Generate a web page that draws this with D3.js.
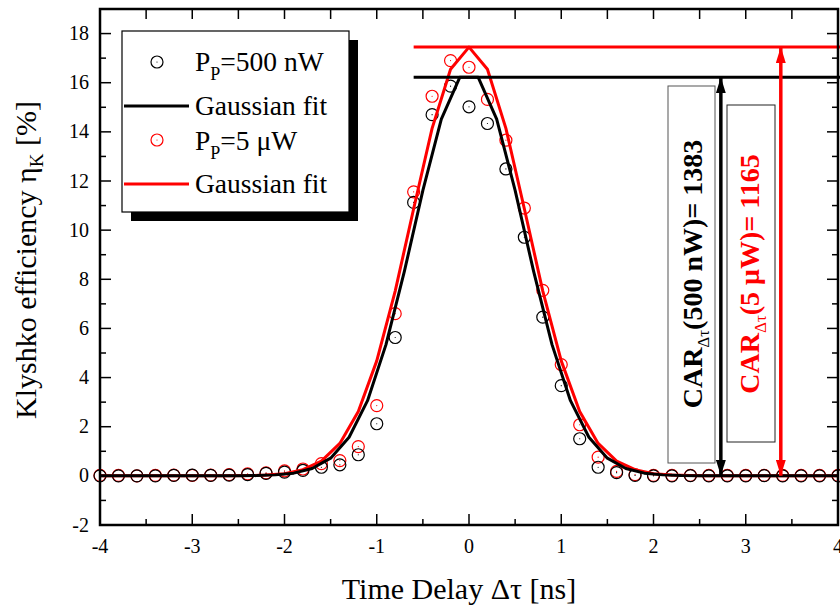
<!DOCTYPE html>
<html>
<head>
<meta charset="utf-8">
<script src="https://cdn.jsdelivr.net/npm/d3@7"></script>
<style>
  body { margin: 0; background: #fff; }
  text { font-family: "Liberation Serif", "Times New Roman", serif; }
</style>
</head>
<body>
<svg id="chart" width="840" height="608"></svg>
<script>
// measured time delays (ns)
var delayNs = [-4.0, -3.8, -3.6, -3.4, -3.2, -3.0, -2.8, -2.6, -2.4, -2.2, -2.0, -1.8, -1.6, -1.4, -1.2, -1.0, -0.8, -0.6, -0.4, -0.2,
  0.0, 0.2, 0.4, 0.6, 0.8, 1.0, 1.2, 1.4, 1.6, 1.8, 2.0, 2.2, 2.4, 2.6, 2.8, 3.0, 3.2, 3.4, 3.6, 3.8, 4.0];

// Klyshko efficiency, Pp = 500 nW
var eta500nW = [0.0, 0.0, 0.0, 0.0, 0.02, 0.03, 0.02, 0.03, 0.05, 0.1, 0.15, 0.22, 0.35, 0.45, 0.86, 2.12, 5.63, 11.13, 14.7, 15.86,
  15.02, 14.34, 12.49, 9.71, 6.46, 3.67, 1.51, 0.35, 0.13, 0.02, 0.0, 0.0, 0.01, 0.0, 0.0, 0.0, 0.01, 0.0, 0.0, 0.0, 0.0];

// Klyshko efficiency, Pp = 5 uW
var eta5uW = [0.02, 0.02, 0.0, 0.02, 0.03, 0.02, 0.03, 0.05, 0.08, 0.12, 0.2, 0.28, 0.5, 0.62, 1.19, 2.86, 6.6, 11.56, 15.45, 16.9,
  16.63, 15.32, 13.66, 10.9, 7.55, 4.53, 2.08, 0.76, 0.18, 0.05, 0.02, 0.02, 0.02, 0.02, 0.02, 0.02, 0.02, 0.02, 0.02, 0.02, 0.02];

// gaussian fit curves as drawn
var fit500X = [-4.0, -3.0, -2.5, -2.3, -2.1, -1.9, -1.7, -1.5, -1.3, -1.1, -0.9, -0.7, -0.5, -0.3, -0.1,
  0.1, 0.3, 0.5, 0.7, 0.9, 1.1, 1.3, 1.5, 1.7, 1.9, 2.1, 2.3, 2.5, 3.0, 4.0];
var fit500Y = [0.0, 0.0, 0.0, 0.01, 0.04, 0.11, 0.3, 0.72, 1.57, 3.06, 5.34, 8.33, 11.62, 14.52, 16.22,
  16.22, 14.52, 11.62, 8.33, 5.34, 3.06, 1.57, 0.72, 0.3, 0.11, 0.04, 0.01, 0.0, 0.0, 0.0];
var fit5X = [-4.0, -3.0, -2.6, -2.4, -2.2, -2.0, -1.8, -1.6, -1.4, -1.2, -1.0, -0.8, -0.6, -0.4, -0.2, 0.0,
  0.2, 0.4, 0.6, 0.8, 1.0, 1.2, 1.4, 1.6, 1.8, 2.0, 2.2, 2.4, 2.6, 3.0, 4.0];
var fit5Y = [0.0, 0.0, 0.0, 0.01, 0.03, 0.09, 0.25, 0.6, 1.32, 2.62, 4.68, 7.52, 10.87, 14.14, 16.55, 17.45,
  16.55, 14.14, 10.87, 7.52, 4.68, 2.62, 1.32, 0.6, 0.25, 0.09, 0.03, 0.01, 0.0, 0.0, 0.0];

// peak levels and CAR arrows
var peak500 = 16.22, peak5 = 17.45;
var peakLineStart = -0.6;
var arrow500X = 2.73, arrow5X = 3.38;

var xTicks = [-4, -3, -2, -1, 0, 1, 2, 3, 4];
var yTicks = [-2, 0, 2, 4, 6, 8, 10, 12, 14, 16, 18];

var svg = d3.select("#chart");
var plotL = 100, plotR = 838, plotT = 9, plotB = 525;

var x = d3.scaleLinear().domain([-4, 4]).range([plotL, plotR]);
var y = d3.scaleLinear().domain([-2, 19]).range([plotB, plotT]);

svg.append("rect").attr("width", 840).attr("height", 608).attr("fill", "#fff");

var defs = svg.append("defs");
function addHead(id, color) {
  defs.append("marker").attr("id", id)
    .attr("viewBox", "0 0 16 10").attr("refX", 16).attr("refY", 5)
    .attr("markerWidth", 16).attr("markerHeight", 10).attr("markerUnits", "userSpaceOnUse")
    .attr("orient", "auto-start-reverse")
    .append("path").attr("d", "M0,0 L16,5 L0,10 Z").attr("fill", color);
}
addHead("headK", "#000");
addHead("headR", "#f00");

// ticks, all four sides, inward
var tk = svg.append("g").attr("stroke", "#000").attr("stroke-width", 1.5);
d3.range(-4, 4.01, 0.5).forEach(function (v) {
  var major = Math.abs(v - Math.round(v)) < 1e-6;
  var len = major ? 11 : 6;
  tk.append("line").attr("x1", x(v)).attr("x2", x(v)).attr("y1", plotB).attr("y2", plotB - len);
  tk.append("line").attr("x1", x(v)).attr("x2", x(v)).attr("y1", plotT).attr("y2", plotT + 10);
});
d3.range(-2, 19.01, 1).forEach(function (v) {
  var len = (v % 2 === 0) ? 11 : 6;
  tk.append("line").attr("x1", plotL).attr("x2", plotL + len).attr("y1", y(v)).attr("y2", y(v));
  tk.append("line").attr("x1", plotR).attr("x2", plotR - len).attr("y1", y(v)).attr("y2", y(v));
});

// tick labels
svg.append("g").selectAll("text").data(xTicks).enter().append("text")
  .attr("x", function (d) { return x(d); }).attr("y", 553)
  .attr("text-anchor", "middle").attr("font-size", 20)
  .text(function (d) { return d; });
svg.append("g").selectAll("text").data(yTicks).enter().append("text")
  .attr("x", 89).attr("y", function (d) { return y(d) + 6.5; })
  .attr("text-anchor", "end").attr("font-size", 20)
  .text(function (d) { return d; });

// axis titles
svg.append("text").attr("x", 459).attr("y", 599).attr("text-anchor", "middle")
  .attr("font-size", 30).text("Time Delay \u0394\u03c4 [ns]");
var yt = svg.append("text").attr("transform", "translate(36,260) rotate(-90)")
  .attr("text-anchor", "middle").attr("font-size", 30);
yt.append("tspan").text("Klyshko efficiency \u03b7");
yt.append("tspan").attr("font-size", 19).attr("dy", 7).text("K");
yt.append("tspan").attr("dy", -7).text(" [%]");

// data circles
function drawPoints(vals, color) {
  var g = svg.append("g");
  delayNs.forEach(function (d, i) {
    g.append("circle").attr("cx", x(d)).attr("cy", y(vals[i])).attr("r", 6)
      .attr("fill", "none").attr("stroke", color).attr("stroke-width", 1.2);
    g.append("circle").attr("cx", x(d)).attr("cy", y(vals[i])).attr("r", 0.6).attr("fill", color);
  });
}
drawPoints(eta5uW, "#f00");
drawPoints(eta500nW, "#000");

// fit lines
var line = d3.line().x(function (d) { return x(d[0]); }).y(function (d) { return y(d[1]); });
svg.append("path").datum(d3.zip(fit5X, fit5Y)).attr("d", line)
  .attr("fill", "none").attr("stroke", "#f00").attr("stroke-width", 3).attr("stroke-linejoin", "round");
svg.append("path").datum(d3.zip(fit500X, fit500Y)).attr("d", line)
  .attr("fill", "none").attr("stroke", "#000").attr("stroke-width", 3).attr("stroke-linejoin", "round");

// peak level lines
svg.append("line").attr("x1", x(peakLineStart)).attr("x2", 840).attr("y1", y(peak5)).attr("y2", y(peak5))
  .attr("stroke", "#f00").attr("stroke-width", 3);
svg.append("line").attr("x1", x(peakLineStart)).attr("x2", 840).attr("y1", y(peak500)).attr("y2", y(peak500))
  .attr("stroke", "#000").attr("stroke-width", 3);

// CAR label boxes
svg.append("rect").attr("x", 668).attr("y", 86).attr("width", 47).attr("height", 377)
  .attr("fill", "#fff").attr("stroke", "#555").attr("stroke-width", 1);
svg.append("rect").attr("x", 727).attr("y", 105).attr("width", 48).attr("height", 337)
  .attr("fill", "#fff").attr("stroke", "#222").attr("stroke-width", 1);

function carLabel(cx, cy, color, rest) {
  var t = svg.append("text").attr("transform", "translate(" + cx + "," + cy + ") rotate(-90)")
    .attr("text-anchor", "middle").attr("font-size", 28).attr("font-weight", "bold").attr("fill", color);
  t.append("tspan").text("CAR");
  t.append("tspan").attr("font-size", 17).attr("font-weight", "normal").attr("dy", 7).text("\u0394\u03c4");
  t.append("tspan").attr("dy", -7).text(rest);
}
carLabel(702, 274, "#000", "(500 nW)= 1383");
carLabel(759, 274, "#f00", "(5 \u03bcW)= 1165");

// CAR arrows
svg.append("line").attr("x1", x(arrow500X)).attr("x2", x(arrow500X)).attr("y1", y(0)).attr("y2", y(peak500))
  .attr("stroke", "#000").attr("stroke-width", 3.5)
  .attr("marker-start", "url(#headK)").attr("marker-end", "url(#headK)");
svg.append("line").attr("x1", x(arrow5X)).attr("x2", x(arrow5X)).attr("y1", y(0)).attr("y2", y(peak5))
  .attr("stroke", "#f00").attr("stroke-width", 3.5)
  .attr("marker-start", "url(#headR)").attr("marker-end", "url(#headR)");

// frame
svg.append("rect").attr("x", plotL).attr("y", plotT).attr("width", plotR - plotL).attr("height", plotB - plotT)
  .attr("fill", "none").attr("stroke", "#000").attr("stroke-width", 2.5);

// legend with drop shadow
var lg = svg.append("g");
lg.append("rect").attr("x", 131).attr("y", 40).attr("width", 227).attr("height", 181).attr("fill", "#000");
lg.append("rect").attr("x", 122).attr("y", 31).attr("width", 227).attr("height", 181)
  .attr("fill", "#fff").attr("stroke", "#000").attr("stroke-width", 1.2);

function legendPoint(cy, color) {
  lg.append("circle").attr("cx", 157).attr("cy", cy).attr("r", 6)
    .attr("fill", "none").attr("stroke", color).attr("stroke-width", 1.2);
  lg.append("circle").attr("cx", 157).attr("cy", cy).attr("r", 0.6).attr("fill", color);
}
function legendPower(base, rest) {
  var t = lg.append("text").attr("x", 195).attr("y", base).attr("font-size", 27.5);
  t.append("tspan").text("P");
  t.append("tspan").attr("font-size", 18).attr("dy", 9).text("P");
  t.append("tspan").attr("dy", -9).text(rest);
}
legendPoint(62, "#000");
legendPower(71, "=500 nW");
lg.append("line").attr("x1", 124).attr("x2", 189).attr("y1", 106).attr("y2", 106).attr("stroke", "#000").attr("stroke-width", 3);
lg.append("text").attr("x", 195).attr("y", 115).attr("font-size", 27.5).text("Gaussian fit");
legendPoint(140, "#f00");
legendPower(150, "=5 \u03bcW");
lg.append("line").attr("x1", 124).attr("x2", 189).attr("y1", 184).attr("y2", 184).attr("stroke", "#f00").attr("stroke-width", 3);
lg.append("text").attr("x", 195).attr("y", 193).attr("font-size", 27.5).text("Gaussian fit");
</script>
</body>
</html>
